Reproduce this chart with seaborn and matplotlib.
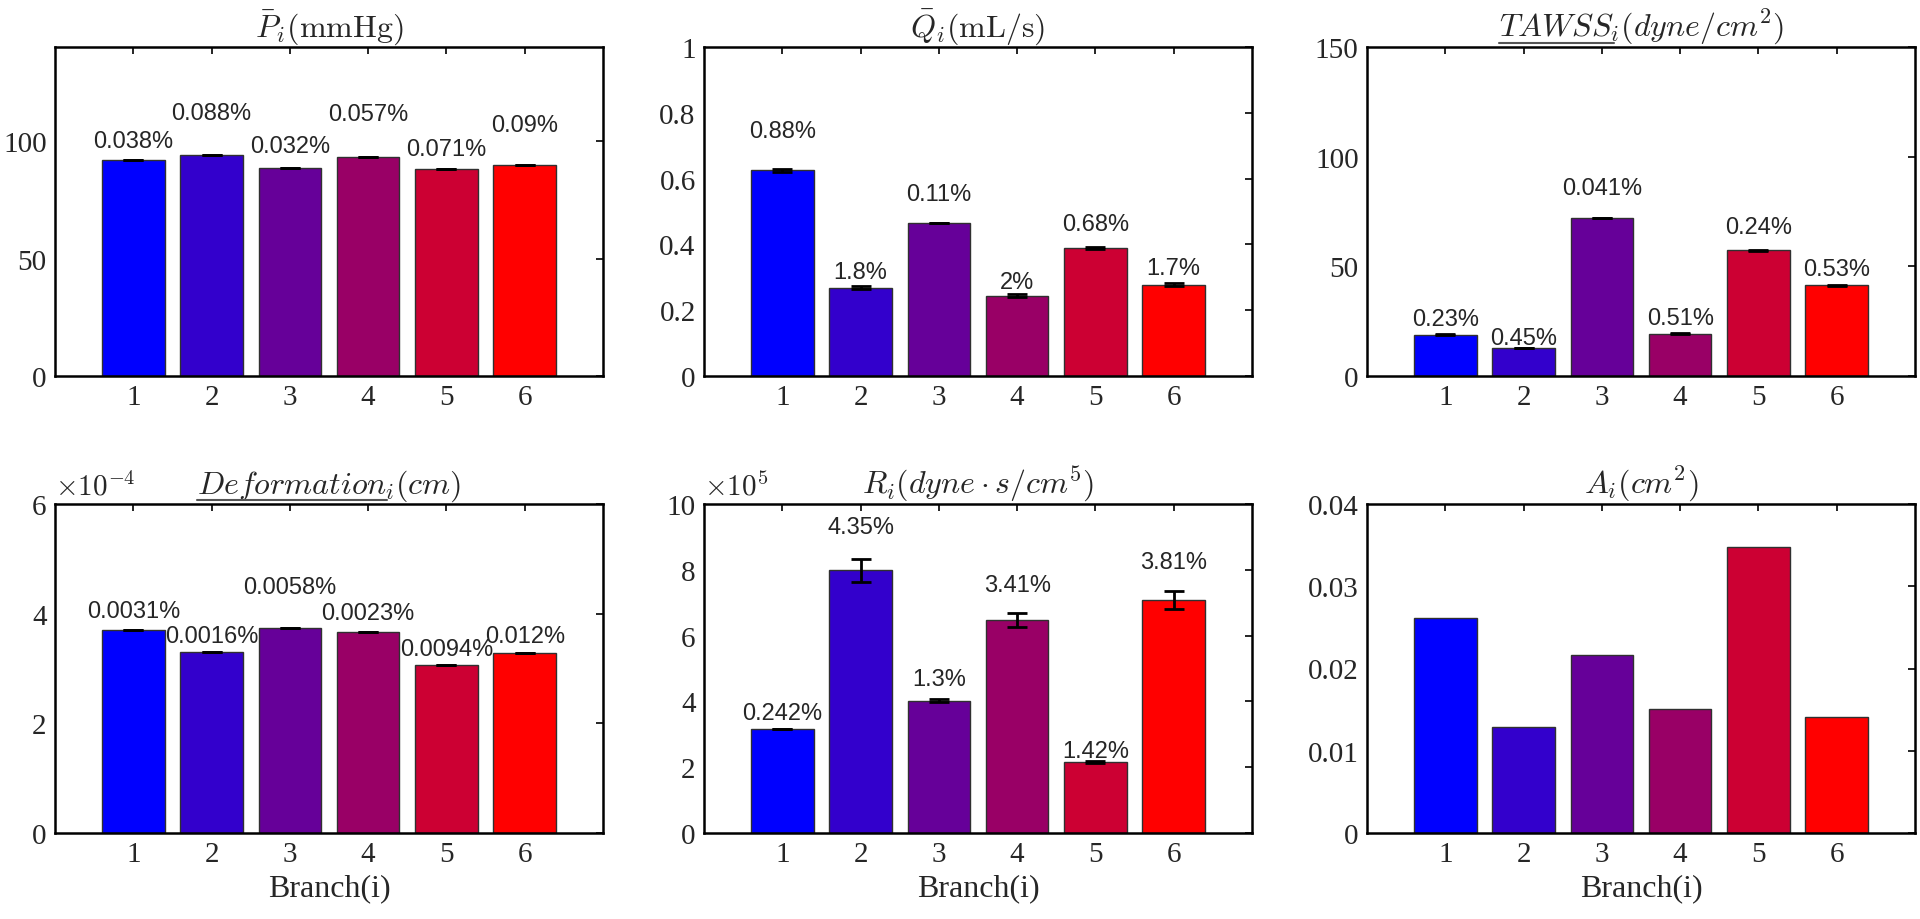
import numpy as np
import pandas as pd
import matplotlib
matplotlib.use("Agg")
import matplotlib.pyplot as plt
from matplotlib.lines import Line2D
from matplotlib.ticker import FuncFormatter
import seaborn as sns

# ---------------- data ----------------
branches = [1, 2, 3, 4, 5, 6]
bar_colors = ["#0000FF", "#3300CC", "#660099", "#990066", "#CC0033", "#FF0000"]

pressure = [91.9, 94.0, 88.65, 93.2, 88.2, 89.8]
pressure_err = [0.035, 0.083, 0.028, 0.053, 0.063, 0.081]
pressure_pct = ["0.038%", "0.088%", "0.032%", "0.057%", "0.071%", "0.09%"]

flow = [0.625, 0.268, 0.465, 0.244, 0.389, 0.277]
flow_err = [0.0055, 0.0048, 0.0005, 0.0049, 0.0026, 0.0047]
flow_pct = ["0.88%", "1.8%", "0.11%", "2%", "0.68%", "1.7%"]

tawss = [18.9, 12.8, 72.0, 19.3, 57.3, 41.4]
tawss_err = [0.043, 0.058, 0.030, 0.098, 0.14, 0.22]
tawss_pct = ["0.23%", "0.45%", "0.041%", "0.51%", "0.24%", "0.53%"]

deformation = [3.697e-4, 3.30e-4, 3.745e-4, 3.666e-4, 3.07e-4, 3.28e-4]
deformation_err = [1.1e-8, 0.5e-8, 2.2e-8, 0.8e-8, 2.9e-8, 3.9e-8]
deformation_pct = ["0.0031%", "0.0016%", "0.0058%", "0.0023%", "0.0094%", "0.012%"]

resistance = [3.16e5, 7.99e5, 4.02e5, 6.48e5, 2.17e5, 7.08e5]
resistance_err = [0.0076e5, 0.348e5, 0.052e5, 0.221e5, 0.031e5, 0.27e5]
resistance_pct = ["0.242%", "4.35%", "1.3%", "3.41%", "1.42%", "3.81%"]

area = [0.0261, 0.01285, 0.02169, 0.01512, 0.03474, 0.01411]

# ---------------- layout (label heights, axes limits) ----------------
pressure_lbl_y = [100, 112, 98, 111.3, 96.5, 107]
flow_lbl_y = [0.744, 0.316, 0.552, 0.286, 0.463, 0.329]
tawss_lbl_y = [25.9, 17.5, 85.6, 26.6, 68, 49]
deformation_lbl_y = [4.05e-4, 3.59e-4, 4.48e-4, 4.02e-4, 3.35e-4, 3.59e-4]
resistance_lbl_y = [3.64e5, 9.29e5, 4.68e5, 7.54e5, 2.48e5, 8.25e5]

sns.set_style("white")
plt.rcParams["font.family"] = ["Liberation Serif", "DejaVu Serif"]
plt.rcParams["mathtext.fontset"] = "cm"

fig = plt.figure(figsize=(19.2, 9.2), dpi=100)

W, H = 1920, 920
lefts = [55, 704, 1367]
aw = 548
tops = [48, 505]
ah = 329

panels = [
    dict(vals=pressure, err=pressure_err, pct=pressure_pct, lbl=pressure_lbl_y,
         title=r"$\bar{P}_i(\mathrm{mmHg})$", ylim=(0, 140), yticks=[0, 50, 100], exp=None, ul=None),
    dict(vals=flow, err=flow_err, pct=flow_pct, lbl=flow_lbl_y,
         title=r"$\bar{Q}_i(\mathrm{mL/s})$", ylim=(0, 1), yticks=[0, 0.2, 0.4, 0.6, 0.8, 1], exp=None, ul=None),
    dict(vals=tawss, err=tawss_err, pct=tawss_pct, lbl=tawss_lbl_y,
         title=r"$TAWSS_i(dyne/cm^2)$", ylim=(0, 150), yticks=[0, 50, 100, 150], exp=None, ul=r"$TAWSS$"),
    dict(vals=deformation, err=deformation_err, pct=deformation_pct, lbl=deformation_lbl_y,
         title=r"$Deformation_i(cm)$", ylim=(0, 6e-4), yticks=[0, 2e-4, 4e-4, 6e-4], exp=-4, ul=r"$Deformation$"),
    dict(vals=resistance, err=resistance_err, pct=resistance_pct, lbl=resistance_lbl_y,
         title=r"$R_i(dyne\cdot s/cm^5)$", ylim=(0, 10e5), yticks=[0, 2e5, 4e5, 6e5, 8e5, 10e5], exp=5, ul=None),
    dict(vals=area, err=None, pct=None, lbl=None,
         title=r"$A_i(cm^2)$", ylim=(0, 0.04), yticks=[0, 0.01, 0.02, 0.03, 0.04], exp=None, ul=None),
]

axes = []
for k, p in enumerate(panels):
    r, c = divmod(k, 3)
    ax = fig.add_axes([lefts[c] / W, 1 - (tops[r] + ah) / H, aw / W, ah / H])
    axes.append(ax)
    df = pd.DataFrame({"branch": branches, "value": p["vals"]})
    sns.barplot(data=df, x="branch", y="value", hue="branch", palette=bar_colors,
                native_scale=True, legend=False, ax=ax, width=0.8,
                edgecolor="#303030", linewidth=1.0, saturation=1)
    if p["err"] is not None:
        ax.errorbar(branches, p["vals"], yerr=p["err"], fmt="none", ecolor="black",
                    elinewidth=2.0, capsize=7, capthick=2.0, zorder=5)
        for xb, ly, s in zip(branches, p["lbl"], p["pct"]):
            ax.text(xb, ly, s, ha="center", va="center", fontsize=17,
                    family=["Liberation Sans", "DejaVu Sans"], zorder=6)
    ax.set_xlim(0, 7)
    ax.set_ylim(*p["ylim"])
    ax.set_xticks(branches)
    ax.set_yticks(p["yticks"])
    if p["exp"] is not None:
        scale = 10.0 ** p["exp"]
        ax.yaxis.set_major_formatter(FuncFormatter(lambda v, _, s=scale: f"{round(v / s, 6):g}"))
        ax.text(0.0, 1.012, r"$\times10^{%d}$" % p["exp"], transform=ax.transAxes,
                ha="left", va="bottom", fontsize=21)
    else:
        ax.yaxis.set_major_formatter(FuncFormatter(lambda v, _: f"{round(v, 6):g}"))
    ax.set_xlabel("Branch(i)" if r == 1 else "", fontsize=23, labelpad=4)
    ax.set_ylabel("")
    ax.tick_params(axis="both", direction="in", length=5, width=1.2, labelsize=21,
                   top=True, right=True, color="black", pad=6)
    for sp in ax.spines.values():
        sp.set_visible(True)
        sp.set_color("black")
        sp.set_linewidth(1.8)
    ax.set_title(p["title"], fontsize=23, pad=8)

# underline parts of some titles (as in the reference)
fig.canvas.draw()
renderer = fig.canvas.get_renderer()
for ax, p in zip(axes, panels):
    if p["ul"] is None:
        continue
    t = ax.title
    full_w = t.get_window_extent(renderer).width
    anchor = t.get_transform().transform(t.get_position())
    tmp = fig.text(0, 0, p["ul"], fontsize=23)
    part_w = tmp.get_window_extent(renderer).width
    tmp.remove()
    x0 = anchor[0] - full_w / 2
    x1 = x0 + part_w
    yb = anchor[1] - 7
    inv = fig.transFigure.inverted()
    (fx0, fy), (fx1, _) = inv.transform([(x0, yb), (x1, yb)])
    fig.add_artist(Line2D([fx0, fx1], [fy, fy], transform=fig.transFigure,
                          color="#555555", linewidth=1.5))

fig.savefig("out.png", dpi=100)
